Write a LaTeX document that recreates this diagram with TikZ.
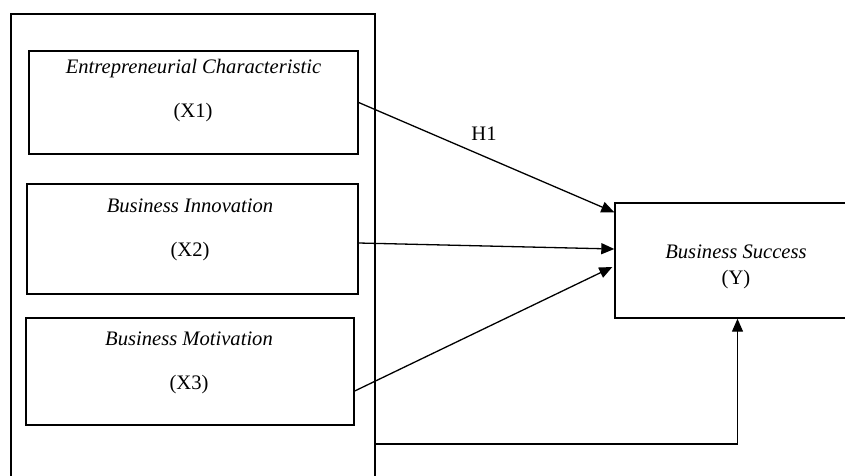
\documentclass[tikz,border=0pt]{standalone}
\usepackage{fontspec}
\setmainfont{Liberation Serif}
\usetikzlibrary{arrows.meta,calc}
\begin{document}
\begin{tikzpicture}[x=1pt,y=-1pt,
  box/.style={draw,line width=1.4pt,inner sep=0pt,anchor=center},
  lbl/.style={font=\fontsize{20.6}{24}\selectfont,inner sep=0pt,anchor=center},
  arr/.style={line width=1.3pt,-{Triangle[length=13pt,width=11pt]}}]
\useasboundingbox (0,0) rectangle (845,475);
\node[box,minimum width=364pt,minimum height=476pt] (outer) at (193,252) {};
\node[box,minimum width=329pt,minimum height=103pt] (X1) at (193.5,102.5) {};
\node[box,minimum width=331pt,minimum height=110pt] (X2) at (192.5,239) {};
\node[box,minimum width=328pt,minimum height=107pt] (X3) at (190,371.5) {};
\node[box,minimum width=245pt,minimum height=115pt] (Y) at (737.5,260.5) {};
\node[lbl] (t1) at (193.5,69) {\itshape Entrepreneurial Characteristic};
\node[lbl] (l1) at (193,113) {(X1)};
\node[lbl] (t2) at (190,206) {\itshape Business Innovation};
\node[lbl] (l2) at (190,252) {(X2)};
\node[lbl] (t3) at (189,339) {\itshape Business Motivation};
\node[lbl] (l3) at (189,385) {(X3)};
\node[lbl] (ty) at (736,252) {\itshape Business Success};
\node[lbl] (ly) at (736,280) {(Y)};
\node[lbl] (h1) at (484,134) {H1};
\draw[arr] (X1.east) -- ([yshift=-10pt]Y.north west);
\draw[arr] ([yshift=-4pt]X2.east) -- ([yshift=11.5pt]Y.west);
\draw[arr] ([yshift=-19.5pt]X3.east) -- ([xshift=-2pt,yshift=-6.5pt]Y.west);
\coordinate (corner) at (737.5,444);
\draw[arr] (outer.east |- corner) -- (corner) -- (Y.south);
\end{tikzpicture}
\end{document}
